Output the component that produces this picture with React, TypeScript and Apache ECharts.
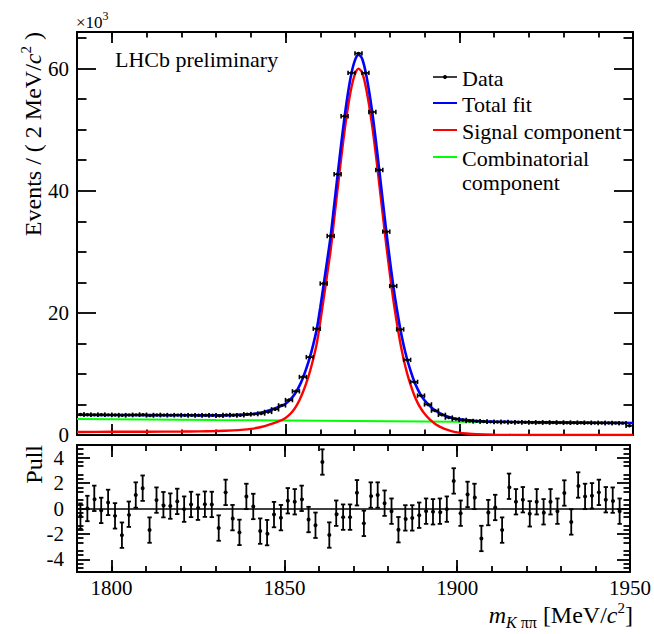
import React, { useEffect, useRef } from "react";
import * as echarts from "echarts";

// ---------- data (events in units of 10^3) ----------
const binCenters = [
  1791, 1793, 1795, 1797, 1799, 1801, 1803, 1805, 1807, 1809,
  1811, 1813, 1815, 1817, 1819, 1821, 1823, 1825, 1827, 1829,
  1831, 1833, 1835, 1837, 1839, 1841, 1843, 1845, 1847, 1849,
  1851, 1853, 1855, 1857, 1859, 1861, 1863, 1865, 1867, 1869,
  1871, 1873, 1875, 1877, 1879, 1881, 1883, 1885, 1887, 1889,
  1891, 1893, 1895, 1897, 1899, 1901, 1903, 1905, 1907, 1909,
  1911, 1913, 1915, 1917, 1919, 1921, 1923, 1925, 1927, 1929,
  1931, 1933, 1935, 1937, 1939, 1941, 1943, 1945, 1947, 1949,
];
const binWidth = 2;

const dataEvents = [
  3.35, 3.33, 3.30, 3.32, 3.30, 3.27, 3.22, 3.26, 3.30, 3.32,
  3.20, 3.28, 3.26, 3.25, 3.26, 3.22, 3.24, 3.22, 3.23, 3.23,
  3.16, 3.29, 3.23, 3.22, 3.40, 3.42, 3.52, 3.78, 4.20, 4.85,
  5.72, 7.15, 9.5, 12.75, 17.4, 24.8, 32.6, 42.7, 52.2, 59.3,
  62.5, 59.3, 52.9, 43.4, 33.3, 24.4, 17.3, 12.3, 8.7, 6.45,
  5.0, 4.0, 3.3, 2.85, 2.6, 2.45, 2.3, 2.25, 2.2, 2.15,
  2.13, 2.12, 2.1, 2.1, 2.08, 2.06, 2.05, 2.05, 2.04, 2.03,
  2.02, 2.0, 2.0, 1.99, 1.98, 1.97, 1.96, 1.95, 1.94, 1.5,
];

const pullValues: (number | null)[] = [
  -0.6, 0.0, 0.8, -0.15, 0.48, -0.58, -2.1, -0.45, 1.06, 1.6,
  -1.7, 0.66, 0.3, 0.19, 0.56, -0.05, 0.32, 0.1, 0.34, 0.32,
  -1.54, 1.27, -0.72, -1.88, 0.95, 0.16, -1.78, -1.9, -0.48, -0.72,
  0.61, 0.53, 0.8, -0.87, -1.32, 3.66, -2.09, -0.37, -0.68, -0.68,
  1.24, -1.17, 1.06, 1.06, 0.42, -0.21, -1.67, -0.74, -0.74, -0.53,
  -0.21, -0.26, -0.21, -0.05, 2.17, -0.37, 1.11, 0.95, -2.36, -0.32,
  0.08, -1.7, 1.75, 0.53, 0.69, -0.42, 0.53, -0.26, 0.53, -0.21,
  1.22, -1.06, 1.85, 0.95, 1.0, 1.27, 0.69, 0.66, -0.21, null,
];
const pullError = 1;

const fitMass = [
  1790, 1800, 1810, 1820, 1825, 1830, 1835, 1838, 1840, 1842, 1844, 1846,
  1848, 1849, 1850, 1851, 1852, 1853, 1854, 1855, 1856, 1857, 1858, 1859,
  1860, 1861, 1862, 1863, 1864, 1865, 1866, 1867, 1868, 1869, 1870, 1871,
  1872, 1873, 1874, 1875, 1876, 1877, 1878, 1879, 1880, 1881, 1882, 1883,
  1884, 1885, 1886, 1887, 1888, 1889, 1890, 1891, 1892, 1893, 1894, 1895,
  1896, 1898, 1900, 1902, 1905, 1910, 1920, 1930, 1940, 1950,
];
const totalFit = [
  3.32, 3.28, 3.25, 3.23, 3.22, 3.22, 3.26, 3.33, 3.40, 3.57, 3.82, 4.18,
  4.58, 4.82, 5.12, 5.6, 6.2, 7.0, 8.05, 9.35, 10.9, 12.7, 14.85, 17.35,
  20.85, 24.7, 28.6, 32.6, 37.6, 42.6, 47.5, 52.1, 56.1, 59.3, 61.4, 62.3,
  61.7, 59.6, 56.5, 52.7, 48.2, 43.3, 38.3, 33.4, 28.8, 24.5, 20.8, 17.5,
  14.7, 12.4, 10.5, 8.85, 7.55, 6.5, 5.7, 5.05, 4.5, 4.05, 3.7, 3.4,
  3.15, 2.8, 2.56, 2.43, 2.3, 2.19, 2.1, 2.04, 2.0, 1.96,
];
const signalFit = [
  0.50, 0.52, 0.54, 0.57, 0.60, 0.65, 0.76, 0.88, 1.00, 1.18, 1.45, 1.82,
  2.22, 2.45, 2.78, 3.25, 3.85, 4.65, 5.7, 7.0, 8.55, 10.35, 12.5, 15.0,
  18.5, 22.4, 26.3, 30.3, 35.3, 40.3, 45.2, 49.8, 53.8, 57.0, 59.1, 60.0,
  59.4, 57.3, 54.2, 50.4, 45.9, 41.0, 36.0, 31.1, 26.5, 22.2, 18.5, 15.2,
  12.4, 10.1, 8.2, 6.6, 5.3, 4.3, 3.5, 2.85, 2.3, 1.85, 1.5, 1.2,
  0.95, 0.6, 0.38, 0.25, 0.13, 0.05, 0.01, 0.0, 0.0, 0.0,
];
const combMass = [1790, 1830, 1870, 1910, 1950];
const combFit = [2.64, 2.46, 2.3, 2.14, 1.97];

// ---------- tick values ----------
const xMajorTicks = [1800, 1850, 1900, 1950];
const xMinorTicks = [1790, 1800, 1810, 1820, 1830, 1840, 1850, 1860, 1870, 1880, 1890, 1900, 1910, 1920, 1930, 1940, 1950];
const topYMajor = [0, 20, 40, 60];
const topYMinor = [5, 10, 15, 25, 30, 35, 45, 50, 55, 65];
const pullYMajor = [-4, -2, 0, 2, 4];
const pullYMinor = [-4.667, -4.333, -3.667, -3.333, -2.667, -2.333, -1.667, -1.333, -0.667, -0.333,
  0.333, 0.667, 1.333, 1.667, 2.333, 2.667, 3.333, 3.667, 4.333, 4.667];

const FONT = "Liberation Serif";
const X_MIN = 1790, X_MAX = 1950;
const TOP_Y_MAX = 66;
const PULL_MIN = -5, PULL_MAX = 5;

function xAx(grid: number, pos: string, values: number[], len: number, showLine: boolean, labels: boolean) {
  return {
    type: "value", gridIndex: grid, position: pos, min: X_MIN, max: X_MAX,
    axisLine: { show: showLine, onZero: false, lineStyle: { color: "#000", width: 2 } },
    axisTick: { show: true, inside: true, length: len, customValues: values, lineStyle: { color: "#000", width: 1.8 } },
    axisLabel: labels
      ? { show: true, customValues: values, margin: 5, color: "#000", fontSize: 21, fontFamily: FONT,
          showMinLabel: true, showMaxLabel: true, formatter: (v: number) => String(v) }
      : { show: false },
    splitLine: { show: false }, minorTick: { show: false }, minorSplitLine: { show: false },
  };
}
function yAx(grid: number, pos: string, min: number, max: number, values: number[], len: number, showLine: boolean, labels: boolean, margin: number) {
  return {
    type: "value", gridIndex: grid, position: pos, min, max,
    axisLine: { show: showLine, onZero: false, lineStyle: { color: "#000", width: 2 } },
    axisTick: { show: true, inside: true, length: len, customValues: values, lineStyle: { color: "#000", width: 1.8 } },
    axisLabel: labels
      ? { show: true, customValues: values, margin, color: "#000", fontSize: 21, fontFamily: FONT,
          showMinLabel: true, showMaxLabel: true, formatter: (v: number) => String(v) }
      : { show: false },
    splitLine: { show: false }, minorTick: { show: false }, minorSplitLine: { show: false },
  };
}

export default function App() {
  const ref = useRef<HTMLDivElement>(null);
  useEffect(() => {
    if (!ref.current) return;
    const chart = echarts.init(ref.current, undefined, { renderer: "svg" });

    const xAxis = [
      xAx(0, "bottom", xMajorTicks, 11, true, false),
      xAx(0, "bottom", xMinorTicks, 5.5, false, false),
      xAx(0, "top", xMajorTicks, 11, true, false),
      xAx(0, "top", xMinorTicks, 5.5, false, false),
      xAx(1, "bottom", xMajorTicks, 12, true, true),
      xAx(1, "bottom", xMinorTicks, 6, false, false),
      xAx(1, "top", xMajorTicks, 12, true, false),
      xAx(1, "top", xMinorTicks, 6, false, false),
    ];
    const yAxis = [
      yAx(0, "left", 0, TOP_Y_MAX, topYMajor, 19, true, true, 8),
      yAx(0, "left", 0, TOP_Y_MAX, topYMinor, 9.5, false, false, 0),
      yAx(0, "right", 0, TOP_Y_MAX, topYMajor, 19, true, false, 0),
      yAx(0, "right", 0, TOP_Y_MAX, topYMinor, 9.5, false, false, 0),
      yAx(1, "left", PULL_MIN, PULL_MAX, pullYMajor, 13, true, true, 13),
      yAx(1, "left", PULL_MIN, PULL_MAX, pullYMinor, 6.5, false, false, 0),
      yAx(1, "right", PULL_MIN, PULL_MAX, pullYMajor, 13, true, false, 0),
      yAx(1, "right", PULL_MIN, PULL_MAX, pullYMinor, 6.5, false, false, 0),
    ];

    const dataPoints = binCenters.map((m, i) => [m, dataEvents[i]]);
    const pullPoints = binCenters
      .map((m, i) => [m, pullValues[i]])
      .filter((d) => d[1] !== null);

    const legendItems = [
      { y: 77, color: "#000", label: "Data", dot: true },
      { y: 103, color: "#0000ff", label: "Total fit", dot: false },
      { y: 130, color: "#ff0000", label: "Signal component", dot: false },
      { y: 157, color: "#00ff00", label: "Combinatorial", dot: false },
    ];
    const legendGraphics: any[] = [];
    legendItems.forEach((it) => {
      legendGraphics.push({
        type: "line", shape: { x1: 433, y1: it.y, x2: 457, y2: it.y },
        style: { stroke: it.color, lineWidth: it.dot ? 1.5 : 2 }, silent: true,
      });
      if (it.dot) legendGraphics.push({ type: "circle", shape: { cx: 445, cy: it.y, r: 2 }, style: { fill: "#000" }, silent: true });
      legendGraphics.push({
        type: "text", x: 462, y: it.y + 1,
        style: { text: it.label, fontSize: 22, fontFamily: FONT, fill: "#000", verticalAlign: "middle", align: "left" },
      });
    });
    legendGraphics.push({
      type: "text", x: 462, y: 182,
      style: { text: "component", fontSize: 22, fontFamily: FONT, fill: "#000", verticalAlign: "middle", align: "left" },
    });

    const richBase = {
      n: { fontSize: 24, fontFamily: FONT, lineHeight: 30, fill: "#000" },
      i: { fontSize: 24, fontFamily: FONT, fontStyle: "italic", lineHeight: 30, fill: "#000" },
      sup: { fontSize: 15, fontFamily: FONT, lineHeight: 17, verticalAlign: "top", fill: "#000" },
      sub: { fontSize: 16, fontFamily: FONT, lineHeight: 17, verticalAlign: "bottom", fill: "#000" },
      subi: { fontSize: 16, fontFamily: FONT, fontStyle: "italic", lineHeight: 17, verticalAlign: "bottom", fill: "#000" },
    };

    const option: any = {
      animation: false,
      backgroundColor: "#fff",
      textStyle: { fontFamily: FONT, color: "#000" },
      grid: [
        { left: 77, top: 32, width: 556, height: 403 },
        { left: 77, top: 445, width: 556, height: 127 },
      ],
      xAxis,
      yAxis,
      series: [
        {
          type: "line", name: "Combinatorial component", xAxisIndex: 0, yAxisIndex: 0,
          data: combMass.map((m, i) => [m, combFit[i]]), showSymbol: false, symbol: "none",
          lineStyle: { color: "#00ff00", width: 2 }, z: 2, silent: true,
        },
        {
          type: "line", name: "Signal component", xAxisIndex: 0, yAxisIndex: 0,
          data: fitMass.map((m, i) => [m, signalFit[i]]), showSymbol: false, symbol: "none", smooth: 0.3,
          lineStyle: { color: "#ff0000", width: 2.4 }, z: 3, silent: true,
        },
        {
          type: "line", name: "Total fit", xAxisIndex: 0, yAxisIndex: 0,
          data: fitMass.map((m, i) => [m, totalFit[i]]), showSymbol: false, symbol: "none", smooth: 0.3,
          lineStyle: { color: "#0000ff", width: 2.6 }, z: 4, silent: true,
        },
        {
          type: "custom", name: "Data", xAxisIndex: 0, yAxisIndex: 0, z: 10, silent: true,
          data: dataPoints,
          renderItem: (_p: any, api: any) => {
            const m = api.value(0), v = api.value(1);
            const c = api.coord([m, v]);
            const l = api.coord([m - binWidth / 2, v]);
            const r = api.coord([m + binWidth / 2, v]);
            const st = { stroke: "#000", lineWidth: 1.6 };
            return {
              type: "group",
              children: [
                { type: "line", shape: { x1: l[0], y1: c[1], x2: r[0], y2: c[1] }, style: st },
                { type: "line", shape: { x1: l[0], y1: c[1] - 2.2, x2: l[0], y2: c[1] + 2.2 }, style: st },
                { type: "line", shape: { x1: r[0], y1: c[1] - 2.2, x2: r[0], y2: c[1] + 2.2 }, style: st },
                { type: "circle", shape: { cx: c[0], cy: c[1], r: 1.7 }, style: { fill: "#000" } },
              ],
            };
          },
        },
        {
          type: "custom", name: "Pull", xAxisIndex: 4, yAxisIndex: 4, z: 10, silent: true,
          data: pullPoints,
          renderItem: (_p: any, api: any) => {
            const m = api.value(0), p = api.value(1);
            const c = api.coord([m, p]);
            const hi = api.coord([m, p + pullError]);
            const lo = api.coord([m, p - pullError]);
            const st = { stroke: "#000", lineWidth: 1.8 };
            return {
              type: "group",
              children: [
                { type: "line", shape: { x1: c[0], y1: hi[1], x2: c[0], y2: lo[1] }, style: st },
                { type: "line", shape: { x1: c[0] - 2.2, y1: hi[1], x2: c[0] + 2.2, y2: hi[1] }, style: st },
                { type: "line", shape: { x1: c[0] - 2.2, y1: lo[1], x2: c[0] + 2.2, y2: lo[1] }, style: st },
                { type: "circle", shape: { cx: c[0], cy: c[1], r: 2 }, style: { fill: "#000" } },
              ],
            };
          },
          markLine: {
            silent: true, symbol: ["none", "none"], label: { show: false },
            lineStyle: { color: "#000", width: 1.6, type: "solid" },
            data: [{ yAxis: 0 }],
          },
        },
      ],
      graphic: [
        {
          type: "text", x: 33, y: 32, rotation: Math.PI / 2,
          style: { text: "{n|Events / ( 2 MeV/}{i|c}{sup|2}{n| )}", rich: richBase, align: "right", verticalAlign: "middle" },
        },
        {
          type: "text", x: 34, y: 445, rotation: Math.PI / 2,
          style: { text: "{n|Pull}", rich: richBase, align: "right", verticalAlign: "middle" },
        },
        {
          type: "text", x: 633, y: 615,
          style: { text: "{i|m}{subi|K}{sub| ππ}{n| [MeV/}{i|c}{sup|2}{n|]}", rich: richBase, align: "right", verticalAlign: "middle" },
        },
        {
          type: "text", x: 76, y: 22,
          style: {
            text: "{a|×10}{b|3}", align: "left", verticalAlign: "middle",
            rich: {
              a: { fontSize: 17, fontFamily: FONT, lineHeight: 24, fill: "#000" },
              b: { fontSize: 12, fontFamily: FONT, lineHeight: 13, verticalAlign: "top", fill: "#000" },
            },
          },
        },
        {
          type: "text", x: 115, y: 59,
          style: { text: "LHCb preliminary", fontSize: 22, fontFamily: FONT, fill: "#000", verticalAlign: "middle", align: "left" },
        },
        ...legendGraphics,
      ],
    };
    chart.setOption(option);
    return () => chart.dispose();
  }, []);
  return (
    <div
      ref={ref}
      style={{ position: "fixed", left: 0, top: 0, width: 654, height: 634, background: "#fff" }}
    />
  );
}
